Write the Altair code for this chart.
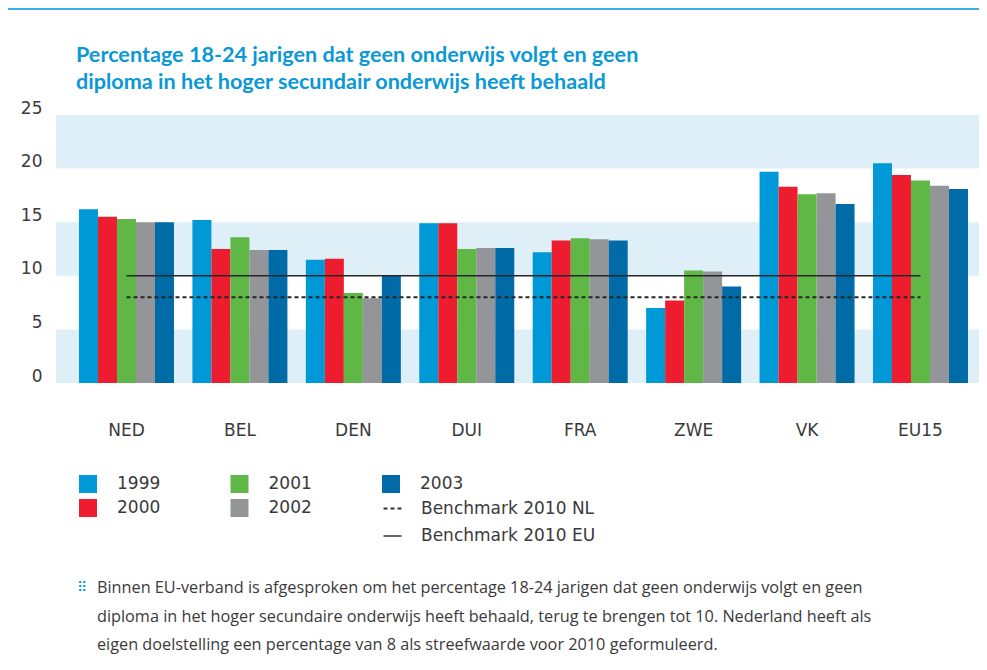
import altair as alt
import pandas as pd

countries = ["NED", "BEL", "DEN", "DUI", "FRA", "ZWE", "VK", "EU15"]
years = ["1999", "2000", "2001", "2002", "2003"]
v1999 = [16.2, 15.2, 11.5, 14.9, 12.2, 7.0, 19.7, 20.5]
v2000 = [15.5, 12.5, 11.6, 14.9, 13.3, 7.7, 18.3, 19.4]
v2001 = [15.3, 13.6, 8.4, 12.5, 13.5, 10.5, 17.6, 18.9]
v2002 = [15.0, 12.4, 7.9, 12.6, 13.4, 10.4, 17.7, 18.4]
v2003 = [15.0, 12.4, 10.0, 12.6, 13.3, 9.0, 16.7, 18.1]
year_colors = ["#0099d8", "#ed1c2e", "#5fb846", "#939598", "#006ba6"]

bench_labels = ["Benchmark 2010 NL", "Benchmark 2010 EU"]
bench_values = [8, 10]

y_ticks = [0, 5, 10, 15, 20, 25]
band_lo = [0, 10, 20]
band_hi = [5, 15, 25]

title_lines = [
    "Percentage 18-24 jarigen dat geen onderwijs volgt en geen",
    "diploma in het hoger secundair onderwijs heeft behaald",
]
note_lines = [
    "Binnen EU-verband is afgesproken om het percentage 18-24 jarigen dat geen onderwijs volgt en geen",
    "diploma in het hoger secundaire onderwijs heeft behaald, terug te brengen tot 10. Nederland heeft als",
    "eigen doelstelling een percentage van 8 als streefwaarde voor 2010 geformuleerd.",
]

# ---- tables built from the arrays ----
series = [v1999, v2000, v2001, v2002, v2003]
bars_df = pd.DataFrame(
    [{"country": c, "year": y, "value": vals[i]}
     for y, vals in zip(years, series) for i, c in enumerate(countries)]
)
bench_df = pd.DataFrame(
    [{"country": c, "bench": b, "value": v}
     for b, v in zip(bench_labels, bench_values) for c in countries]
)
bands_df = pd.DataFrame({"lo": band_lo, "hi": band_hi})

W, H = 923, 268
FONT = "DejaVu Sans"
TXT = "#3a3a3a"

x_scale = alt.Scale(domain=countries, paddingInner=0.1625, paddingOuter=0.1499, align=0.676)
y_scale = alt.Scale(domain=[0, 25], nice=False)
y_axis = alt.Axis(values=y_ticks, domain=False, ticks=False, grid=False,
                  labelFont=FONT, labelFontSize=17, labelColor=TXT,
                  labelPadding=14, labelOffset=-7)

bands = alt.Chart(bands_df).mark_rect(color="#dfeff8").encode(
    x=alt.value(0), x2=alt.value(W),
    y=alt.Y("lo:Q", scale=y_scale, axis=y_axis, title=None),
    y2="hi:Q",
)

bars = alt.Chart(bars_df).mark_bar().encode(
    x=alt.X("country:N", scale=x_scale, sort=countries, title=None,
            axis=alt.Axis(domain=False, ticks=False, labelAngle=0, labelFont=FONT,
                          labelFontSize=17, labelColor=TXT, labelPadding=39,
                          labelBaseline="top")),
    xOffset=alt.XOffset("year:N", sort=years, scale=alt.Scale(paddingInner=0, paddingOuter=0)),
    y=alt.Y("value:Q", scale=y_scale, title=None, axis=y_axis),
    color=alt.Color("year:N", scale=alt.Scale(domain=years, range=year_colors),
                    legend=alt.Legend(title=None, orient="none", legendX=23, legendY=360,
                                      columns=3, symbolType="square", symbolSize=324,
                                      symbolStrokeWidth=0, labelFont=FONT, labelFontSize=17,
                                      labelColor=TXT, labelOffset=20, rowPadding=6,
                                      columnPadding=69.5, padding=0)),
)

lines = alt.Chart(bench_df).mark_line(color="#262626").encode(
    x=alt.X("country:N", scale=x_scale, sort=countries),
    y=alt.Y("value:Q", scale=y_scale),
    strokeDash=alt.StrokeDash(
        "bench:N",
        scale=alt.Scale(domain=bench_labels, range=[[4, 3], [1, 0]]),
        legend=alt.Legend(title=None, orient="none", legendX=326, legendY=383,
                          symbolType="stroke", symbolSize=324, symbolStrokeColor="#333333",
                          symbolStrokeWidth=1.5, labelFont=FONT, labelFontSize=17,
                          labelColor=TXT, labelOffset=18, rowPadding=9, padding=0,
                          labelLimit=400),
    ),
    strokeWidth=alt.StrokeWidth("bench:N", scale=alt.Scale(domain=bench_labels, range=[2.2, 1.6]),
                                legend=None),
)

title = alt.Chart(pd.DataFrame({"t": ["\n".join(title_lines)]})).mark_text(
    align="left", baseline="middle", font="Lato", fontSize=21.6, fontWeight="bold",
    color="#0a98d6", lineHeight=27, lineBreak="\n",
).encode(x=alt.value(20), y=alt.value(-59), text="t:N")

note_df = pd.DataFrame({"t": ["\n".join(note_lines)]})
note = alt.Chart(note_df).mark_text(
    align="left", baseline="middle", font="Open Sans", fontSize=16.25, color=TXT,
    lineHeight=28.5, lineBreak="\n",
).encode(x=alt.value(41), y=alt.value(473), text="t:N")

icon = alt.Chart(pd.DataFrame({"t": ["\u283f"]})).mark_text(
    align="center", baseline="middle", font="DejaVu Sans", fontSize=14, color="#0099d8",
).encode(x=alt.value(26), y=alt.value(473), text="t:N")

border_top = alt.Chart(pd.DataFrame({"a": [0]})).mark_rule(color="#3aaee2", strokeWidth=2).encode(
    x=alt.value(-49), x2=alt.value(W), y=alt.value(-106))
border_left = alt.Chart(pd.DataFrame({"a": [0]})).mark_rule(color="#3aaee2", strokeWidth=2).encode(
    x=alt.value(-49), y=alt.value(-106), y2=alt.value(560))

chart = alt.layer(bands, bars, lines, title, note, icon, border_top, border_left).properties(
    width=W, height=H,
    autosize=alt.AutoSizeParams(type="none"),
    padding={"left": 48, "top": 107, "right": 0, "bottom": 285},
).configure_view(stroke=None)

chart.save("out.html", embed_options={"renderer": "svg", "actions": False})
